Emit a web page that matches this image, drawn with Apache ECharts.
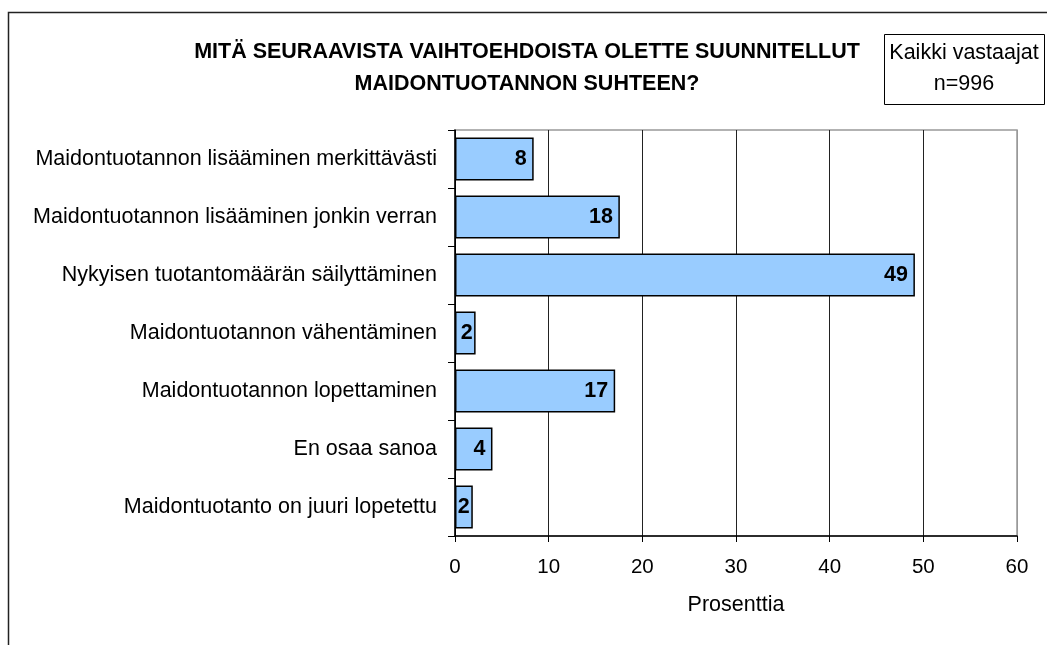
<!DOCTYPE html>
<html>
<head>
<meta charset="utf-8">
<script src="https://cdn.jsdelivr.net/npm/echarts@6/dist/echarts.min.js"></script>
<style>
html,body{margin:0;padding:0;background:#fff;}
#chart{width:1047px;height:645px;}
</style>
</head>
<body>
<div id="chart"></div>
<script>
const categories = [
  'Maidontuotannon lisääminen merkittävästi',
  'Maidontuotannon lisääminen jonkin verran',
  'Nykyisen tuotantomäärän säilyttäminen',
  'Maidontuotannon vähentäminen',
  'Maidontuotannon lopettaminen',
  'En osaa sanoa',
  'Maidontuotanto on juuri lopetettu'
];
const values = [8.4, 17.6, 49.1, 2.2, 17.1, 4.0, 1.9];
const xTicks = [0, 10, 20, 30, 40, 50, 60];
const titleLines = ['MITÄ SEURAAVISTA VAIHTOEHDOISTA OLETTE SUUNNITELLUT', 'MAIDONTUOTANNON SUHTEEN?'];
const boxLines = ['Kaikki vastaajat', 'n=996'];
const axisName = 'Prosenttia';

const FONT = '"Liberation Sans", Arial, sans-serif';
const chart = echarts.init(document.getElementById('chart'), null, {renderer: 'canvas'});

const seriesData = values.map(v => ({
  value: v,
  label: {distance: v < 3 ? 3 : 7}
}));

chart.setOption({
  animation: false,
  backgroundColor: '#fff',
  title: {
    text: titleLines.join('\n'),
    left: 527,
    top: 36,
    textAlign: 'center',
    padding: 0,
    textStyle: {fontFamily: FONT, fontSize: 21.5, fontWeight: 'bold', color: '#000', lineHeight: 32}
  },
  graphic: [
    {type: 'rect', silent: true, z: 100,
     shape: {x: 8.5, y: 12.5, width: 1200, height: 800},
     style: {fill: 'none', stroke: '#222', lineWidth: 1.5}},
    {type: 'rect', silent: true, z: 100,
     shape: {x: 884.5, y: 34.5, width: 160, height: 70},
     style: {fill: '#fff', stroke: '#000', lineWidth: 1}},
    {type: 'text', silent: true, z: 101, x: 964, y: 53,
     style: {text: boxLines[0], fontFamily: FONT, fontSize: 21.5, fill: '#000', align: 'center', verticalAlign: 'middle'}},
    {type: 'text', silent: true, z: 101, x: 964, y: 84,
     style: {text: boxLines[1], fontFamily: FONT, fontSize: 21.5, fill: '#000', align: 'center', verticalAlign: 'middle'}}
  ],
  grid: {
    left: 455, right: 30, top: 130, bottom: 109,
    show: true, borderColor: '#999', borderWidth: 1.5, backgroundColor: 'transparent'
  },
  xAxis: {
    type: 'value',
    min: xTicks[0], max: xTicks[xTicks.length - 1], interval: 10,
    name: axisName, nameLocation: 'middle', nameGap: 58,
    nameTextStyle: {fontFamily: FONT, fontSize: 21.5, color: '#000'},
    axisLine: {show: true, lineStyle: {color: '#000', width: 1.5}},
    axisTick: {show: true, length: 6, lineStyle: {color: '#000', width: 1}},
    axisLabel: {fontFamily: FONT, fontSize: 20.5, color: '#000', margin: 21},
    splitLine: {show: true, lineStyle: {color: ['#000', '#222', '#222', '#222', '#222', '#222', '#999'], width: 1}}
  },
  yAxis: {
    type: 'category',
    data: categories,
    inverse: true,
    axisLine: {show: true, lineStyle: {color: '#000', width: 1.5}},
    axisTick: {show: true, length: 7, lineStyle: {color: '#000', width: 1}},
    axisLabel: {fontFamily: FONT, fontSize: 21.5, color: '#000', margin: 18},
    splitLine: {show: false}
  },
  series: [{
    type: 'bar',
    data: seriesData,
    barWidth: 43,
    itemStyle: {color: '#99CCFF', borderColor: '#000', borderWidth: 1.5},
    label: {
      show: true, position: 'insideRight',
      fontFamily: FONT, fontSize: 21.5, fontWeight: 'bold', color: '#000',
      formatter: p => Math.round(p.value)
    }
  }]
});
</script>
</body>
</html>
